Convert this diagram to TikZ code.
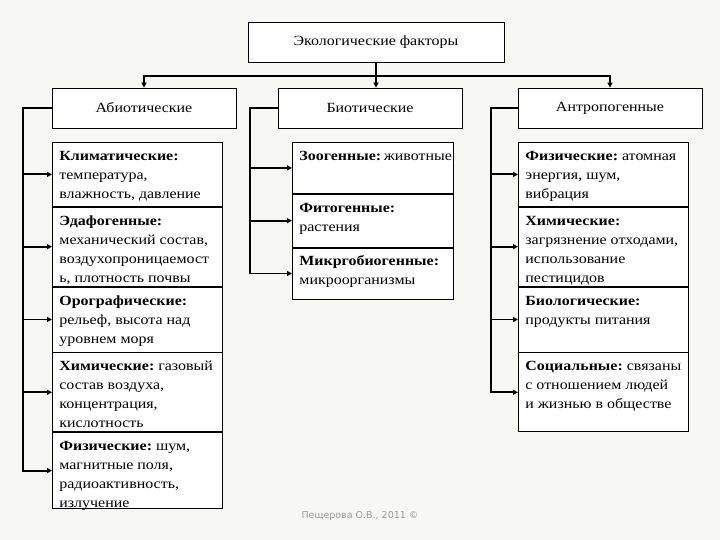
\documentclass[tikz,border=0pt]{standalone}
\usepackage{fontspec}
\setmainfont{Liberation Serif}[FakeStretch=1.14]
\newfontfamily\footfont{DejaVu Sans}
\usetikzlibrary{arrows.meta, positioning, calc}
\definecolor{bgpaper}{RGB}{247,247,243}

% top-aligned text inside a fixed-height cell
\newcommand{\celltxt}[3]{\parbox[c][#1][t]{#2}{\raggedright\rule{0pt}{18pt}#3}}

\begin{document}
\begin{tikzpicture}[
    x=1pt, y=-1pt,
    every node/.style={font=\fontsize{14}{19}\selectfont},
    head/.style={rectangle, draw, thick, fill=white, minimum width=184pt, minimum height=40pt, align=center},
    cell/.style={rectangle, draw, thick, fill=white, inner xsep=7pt, inner ysep=0pt},
    arrow/.style={-{Triangle[length=5pt, width=5pt]}, line width=1.8pt}
]
    \fill[bgpaper] (0,0) rectangle (720,540);

    % Heads
    \node[head, minimum width=256pt] (eco) at (376,42) {Экологические факторы};
    \node[head] (abio) at (144,108) {Абиотические};
    \node[head] (bio) at (370,108) {Биотические};
    \node[head] (anthro) at (610,108) {Антропогенные};

    % Abiotic column
    \node[cell, anchor=north west] (clim) at (52,142) {\celltxt{64pt}{156pt}{\textbf{Климатические:}\\температура,\\влажность, давление}};
    \node[cell, below=0pt of clim] (edaph) {\celltxt{79pt}{156pt}{\textbf{Эдафогенные:}\\механический состав,\\воздухопроницаемост\\ь, плотность почвы}};
    \node[cell, below=0pt of edaph] (orog) {\celltxt{65pt}{156pt}{\textbf{Орографические:}\\рельеф, высота над\\уровнем моря}};
    \node[cell, below=0pt of orog] (chem) {\celltxt{79pt}{156pt}{\textbf{Химические:}~газовый\\состав воздуха,\\концентрация,\\кислотность}};
    \node[cell, below=0pt of chem] (phys) {\celltxt{76pt}{156pt}{\textbf{Физические:}~шум,\\магнитные поля,\\радиоактивность,\\излучение}};

    % Biotic column
    \node[cell, anchor=north west] (zoo) at (292,142) {\celltxt{51pt}{147pt}{\textbf{Зоогенные:}~животные}};
    \node[cell, below=0pt of zoo] (phyto) {\celltxt{53pt}{147pt}{\textbf{Фитогенные:}\\растения}};
    \node[cell, below=0pt of phyto] (micro) {\celltxt{51pt}{147pt}{\textbf{Микргобиогенные:}\\микроорганизмы}};

    % Anthropogenic column
    \node[cell, anchor=north west] (aphys) at (518,142) {\celltxt{64pt}{156pt}{\textbf{Физические:}~атомная\\энергия, шум,\\вибрация}};
    \node[cell, below=0pt of aphys] (achem) {\celltxt{79pt}{156pt}{\textbf{Химические:}\\загрязнение отходами,\\использование\\пестицидов}};
    \node[cell, below=0pt of achem] (abiol) {\celltxt{65pt}{156pt}{\textbf{Биологические:}\\продукты питания}};
    \node[cell, below=0pt of abiol] (social) {\celltxt{79pt}{156pt}{\textbf{Социальные:}~связаны\\с отношением людей\\и жизнью в обществе}};

    % Footer
    \node[font=\footfont\fontsize{9.5}{11}\selectfont, text=gray!80] (credit) at (360,516) {Пещерова О.В., 2011 ©};

    % Arrows from the top
    \draw[arrow] (eco.south) -- (eco.south |- bio.north);
    \draw[arrow] (eco.south) -- ++(0,14) -| (abio.north);
    \draw[arrow] (eco.south) -- ++(0,14) -| (anthro.north);

    % Side buses
    \coordinate (abus) at ($(abio.west)+(-29,0)$);
    \coordinate (bbus) at ($(bio.west)+(-28,0)$);
    \coordinate (cbus) at ($(anthro.west)+(-27,0)$);

    \draw[arrow] (abio.west) -- (abus) |- (phys.west);
    \foreach \c in {clim, edaph, orog, chem}
        \draw[arrow] (abus |- \c.west) -- (\c.west);

    \draw[arrow] (bio.west) -- (bbus) |- (micro.west);
    \foreach \c in {zoo, phyto}
        \draw[arrow] (bbus |- \c.west) -- (\c.west);

    \draw[arrow] (anthro.west) -- (cbus) |- (social.west);
    \foreach \c in {aphys, achem, abiol}
        \draw[arrow] (cbus |- \c.west) -- (\c.west);

\end{tikzpicture}
\end{document}
